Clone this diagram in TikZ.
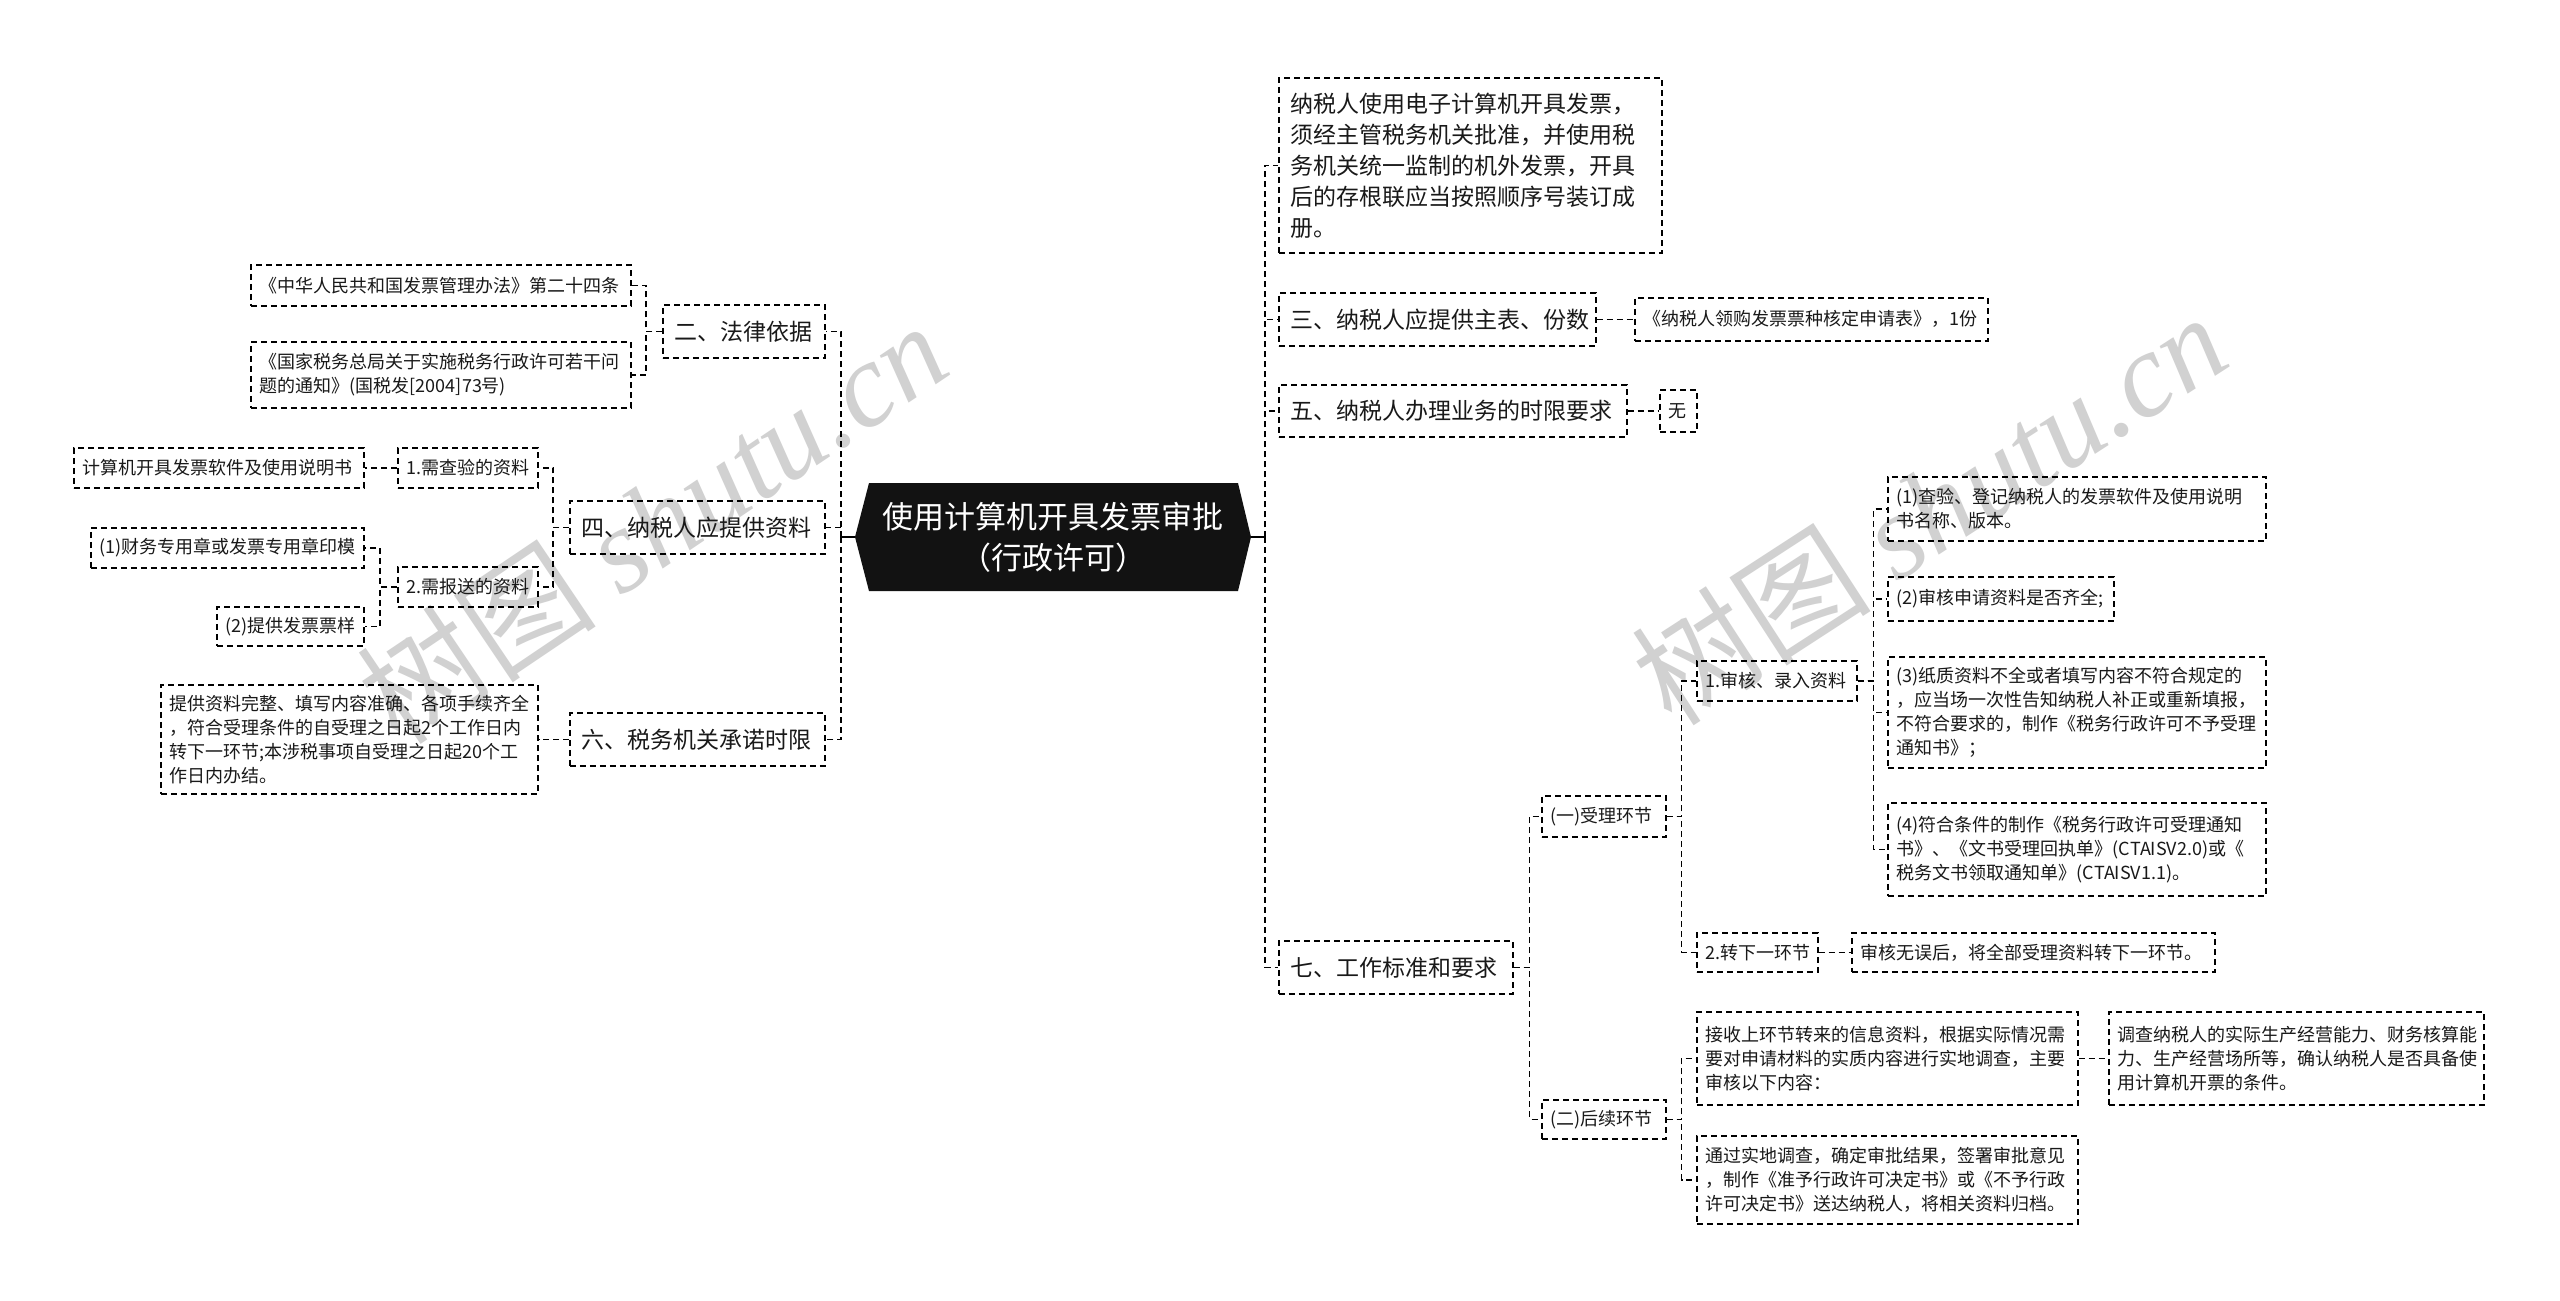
\documentclass[tikz,border=0pt]{standalone}
\usepackage{fontspec}
\setmainfont{Noto Sans CJK SC}
\newfontfamily\wmfont{Liberation Serif}
\def\lgname{lg}
\newcommand\bx[7]{%
 \def\bxs{#6}%
 \ifx\bxs\lgname\def\bxp{12}\else\def\bxp{9}\fi
 \pgfmathsetmacro\bxw{#4-#2-2*\bxp}%
 \pgfmathsetmacro\bxh{#5-#3}%
 \node[box,#6,inner xsep=\bxp pt,text width=\bxw pt,minimum height=\bxh pt] (#1) at (#2,#3) {#7};}
\tikzset{
 box/.style={draw=black, line width=1.6pt, dash pattern=on 6pt off 4pt, inner ysep=0pt, align=left, anchor=north west, text=black!90},
 sm/.style={font=\fontsize{18}{24}\selectfont},
 lg/.style={font=\fontsize{23}{31}\selectfont},
 conn/.style={draw=black, line width=1.6pt, dash pattern=on 6pt off 4pt},
 stub/.style={draw=black, line width=2pt},
 wm/.style={text=black!18, font=\fontsize{120}{120}\selectfont, inner sep=0pt}
}
\begin{document}
\begin{tikzpicture}[x=1pt,y=-1pt]
\useasboundingbox (0,0) rectangle (2560,1301);
\fill[white] (0,0) rectangle (2560,1301);
% watermarks
\node[wm, rotate=34] (wm1) at (652,522) {树图 {\wmfont\itshape shutu.cn}};
\node[wm, rotate=33] (wm2) at (1929,508) {树图 {\wmfont\itshape shutu.cn}};
% root
\fill[black!93] (869,483) -- (1238,483) -- (1251,537) -- (1238,591) -- (869,591) -- (855,537) -- cycle;
\node[font=\fontsize{31}{41}\selectfont, text=white, align=center, minimum width=396pt, minimum height=108pt, inner sep=0pt] (root) at (1053,537) {使用计算机开具发票审批\\（行政许可）};
% left side
\bx{a2}{662}{304}{824}{357}{lg}{二、法律依据}
\bx{a2a}{250}{264}{630}{305}{sm}{《中华人民共和国发票管理办法》第二十四条}
\bx{a2b}{250}{341}{630}{407}{sm}{《国家税务总局关于实施税务行政许可若干问\\题的通知》(国税发[2004]73号)}
\bx{a4}{569}{500}{824}{553}{lg}{四、纳税人应提供资料}
\bx{a41}{397}{447}{537}{487}{sm}{1.需查验的资料}
\bx{a41a}{73}{447}{363}{487}{sm}{计算机开具发票软件及使用说明书}
\bx{a42}{397}{566}{537}{606}{sm}{2.需报送的资料}
\bx{a42a}{90}{527}{363}{567}{sm}{(1)财务专用章或发票专用章印模}
\bx{a42b}{216}{606}{363}{645}{sm}{(2)提供发票票样}
\bx{a6}{569}{712}{824}{765}{lg}{六、税务机关承诺时限}
\bx{a6a}{160}{684}{537}{793}{sm}{提供资料完整、填写内容准确、各项手续齐全\\，符合受理条件的自受理之日起2个工作日内\\转下一环节;本涉税事项自受理之日起20个工\\作日内办结。}
% right side
\bx{b1}{1278}{77}{1661}{252}{lg}{纳税人使用电子计算机开具发票，\\须经主管税务机关批准，并使用税\\务机关统一监制的机外发票，开具\\后的存根联应当按照顺序号装订成\\册。}
\bx{b3}{1278}{292}{1595}{345}{lg}{三、纳税人应提供主表、份数}
\bx{b3a}{1634}{297}{1987}{340}{sm}{《纳税人领购发票票种核定申请表》，1份}
\bx{b5}{1278}{384}{1626}{436}{lg}{五、纳税人办理业务的时限要求}
\bx{b5a}{1659}{389}{1696}{431}{sm}{无}
\bx{b7}{1278}{940}{1512}{993}{lg}{七、工作标准和要求}
\bx{c1}{1541}{795}{1665}{836}{sm}{(一)受理环节}
\bx{d1}{1696}{660}{1856}{700}{sm}{1.审核、录入资料}
\bx{e1}{1887}{476}{2265}{540}{sm}{(1)查验、登记纳税人的发票软件及使用说明\\书名称、版本。}
\bx{e2}{1887}{576}{2113}{620}{sm}{(2)审核申请资料是否齐全;}
\bx{e3}{1887}{656}{2265}{767}{sm}{(3)纸质资料不全或者填写内容不符合规定的\\，应当场一次性告知纳税人补正或重新填报，\\不符合要求的，制作《税务行政许可不予受理\\通知书》；}
\bx{e4}{1887}{802}{2265}{895}{sm}{(4)符合条件的制作《税务行政许可受理通知\\书》、《文书受理回执单》(CTAISV2.0)或《\\税务文书领取通知单》(CTAISV1.1)。}
\bx{d2}{1696}{932}{1817}{971}{sm}{2.转下一环节}
\bx{d2a}{1851}{932}{2214}{971}{sm}{审核无误后，将全部受理资料转下一环节。}
\bx{c2}{1541}{1099}{1665}{1138}{sm}{(二)后续环节}
\bx{f1}{1696}{1011}{2077}{1104}{sm}{接收上环节转来的信息资料，根据实际情况需\\要对申请材料的实质内容进行实地调查，主要\\审核以下内容：}
\bx{f1a}{2108}{1011}{2483}{1104}{sm}{调查纳税人的实际生产经营能力、财务核算能\\力、生产经营场所等，确认纳税人是否具备使\\用计算机开票的条件。}
\bx{f2}{1696}{1135}{2077}{1223}{sm}{通过实地调查，确定审批结果，签署审批意见\\，制作《准予行政许可决定书》或《不予行政\\许可决定书》送达纳税人，将相关资料归档。}
% connectors
\coordinate (lt) at (841,537);
\coordinate (rt) at (1265,537);
\draw[stub] (root.west) -- (lt);
\draw[stub] (root.east) -- (rt);
\foreach \n in {a2,a4,a6} \draw[conn] (lt) |- (\n.east);
\foreach \n in {b1,b3,b5,b7} \draw[conn] (rt) |- (\n.west);
\foreach \n in {a2a,a2b} \draw[conn] (a2.west) -- ++(-16,0) |- (\n.east);
\foreach \n in {a41,a42} \draw[conn] (a4.west) -- ++(-16,0) |- (\n.east);
\draw[conn] (a41.west) -- (a41a.east);
\foreach \n in {a42a,a42b} \draw[conn] (a42.west) -- ++(-17,0) |- (\n.east);
\draw[conn] (a6.west) -- ++(-16,0) |- (a6a.east);
\draw[conn] (b3.east) -- (b3a.west);
\draw[conn] (b5.east) -- (b5a.west);
\foreach \n in {c1,c2} \draw[conn] (b7.east) -- ++(16,0) |- (\n.west);
\foreach \n in {d1,d2} \draw[conn] (c1.east) -- ++(15,0) |- (\n.west);
\foreach \n in {e1,e2,e3,e4} \draw[conn] (d1.east) -- ++(16,0) |- (\n.west);
\draw[conn] (d2.east) -- (d2a.west);
\foreach \n in {f1,f2} \draw[conn] (c2.east) -- ++(15,0) |- (\n.west);
\draw[conn] (f1.east) -- (f1a.west);
\end{tikzpicture}
\end{document}
